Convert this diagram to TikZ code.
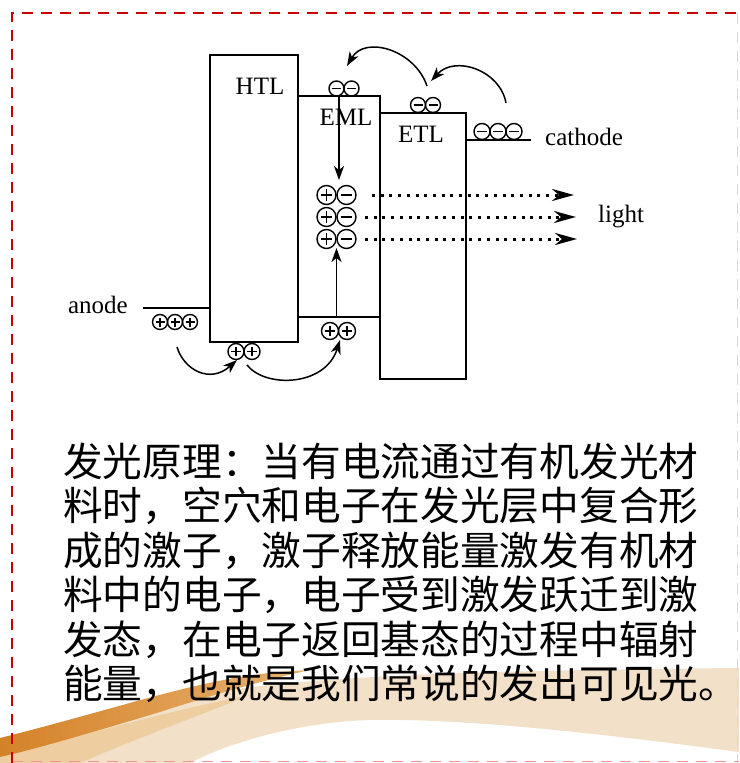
\documentclass[tikz,border=0pt]{standalone}
\usepackage{fontspec}
\setmainfont{Liberation Serif}
\newfontfamily\cjkfont{Noto Sans CJK SC}
\usetikzlibrary{arrows.meta}

\definecolor{frame}{RGB}{200,0,0}
\definecolor{framepink}{RGB}{240,150,150}
\definecolor{framegray}{RGB}{215,215,215}
\definecolor{swdark}{RGB}{212,130,40}
\definecolor{swmid}{RGB}{232,178,112}
\definecolor{swpale}{RGB}{242,224,200}
\definecolor{swlight}{RGB}{238,205,160}

\begin{document}
\begin{tikzpicture}[x=1pt,y=-1pt,
  level/.style={line width=2.6pt},
  wall/.style={line width=1.8pt},
  lbl/.style={font=\fontsize{25}{30}\selectfont, inner sep=0pt},
  cjkline/.style={font=\cjkfont\fontsize{39.7}{45}\selectfont, inner sep=0pt, anchor=base west},
  neg/.style={circle, draw, line width=1.4pt, inner sep=0pt, minimum size=#1,
    path picture={\draw[line width=1.8pt]
      ([xshift=-0.3*#1]path picture bounding box.center) --
      ([xshift=0.3*#1]path picture bounding box.center);}},
  pos/.style={circle, draw, line width=1.4pt, inner sep=0pt, minimum size=#1,
    path picture={\draw[line width=1.8pt]
      ([xshift=-0.3*#1]path picture bounding box.center) --
      ([xshift=0.3*#1]path picture bounding box.center)
      ([yshift=-0.3*#1]path picture bounding box.center) --
      ([yshift=0.3*#1]path picture bounding box.center);}},
  arr/.style={line width=1.5pt, -{Stealth[length=14pt,width=10pt,inset=4pt]}},
  ray/.style={line width=3pt, dash pattern=on 3pt off 5.7pt,
    -{Stealth[length=22pt,width=12pt,inset=7pt]}},
]
\useasboundingbox (0,0) rectangle (739,763);
\fill[white] (0,0) rectangle (739,763);

% decorative swoosh along the bottom
\fill[swpale] (150,706) .. controls (250,678) and (420,671) .. (739,668)
  -- (739,752) .. controls (620,736) and (470,718) .. (370,720)
  .. controls (300,722) and (230,742) .. (190,763) -- (0,763) -- (0,757) -- cycle;
\fill[swlight] (0,757) .. controls (60,742) and (150,715) .. (250,695)
  .. controls (200,715) and (120,745) .. (80,763) -- (0,763) -- cycle;
\shade[left color=swdark, right color=swmid]
  (0,738) .. controls (80,718) and (150,696) .. (200,685)
  .. controls (235,677) and (265,672) .. (310,670)
  .. controls (265,680) and (215,694) .. (160,712)
  .. controls (100,730) and (40,748) .. (0,757) -- cycle;

% page frame
\draw[framegray, line width=1.5pt, dash pattern=on 11pt off 8pt] (737.5,13) -- (737.5,763);
\draw[framepink, line width=1.8pt, dash pattern=on 11pt off 8pt] (12,761.5) -- (739,761.5);
\draw[frame, line width=2.2pt, dash pattern=on 11pt off 8pt] (12,763) -- (12,13) -- (739,13);

% layer boxes
\draw[wall] (210,55) rectangle (298,342);
\draw[wall] (298,96) rectangle (380,317);
\draw[wall] (380,113) rectangle (466,379);
\draw[level] (208.8,55) -- (299.2,55);
\draw[level] (208.8,342) -- (299.2,342);
\draw[level] (298,96) -- (381.2,96);
\draw[level] (380,113) -- (467.2,113);
\draw[level] (143,308) -- (210,308);
\draw[level] (466,140) -- (531,140);

\node[lbl] (htl) at (260,86) {HTL};
\node[lbl] (eml) at (346,117) {EML};
\node[lbl] (etl) at (421,134) {ETL};
\node[lbl, anchor=base east] (anode) at (128,313) {anode};
\node[lbl, anchor=base west] (cathode) at (545,145) {cathode};
\node[lbl, anchor=base west] (light) at (598,222) {light};

% electrons
\node[neg=15pt] (em1) at (336.5,88.5) {};
\node[neg=15pt] (em2) at (351.5,88.5) {};
\node[neg=15pt] (et1) at (418,105) {};
\node[neg=15pt] (et2) at (433,105) {};
\node[neg=16pt] (ca1) at (482,131.5) {};
\node[neg=16pt] (ca2) at (498,131.5) {};
\node[neg=16pt] (ca3) at (514,131.5) {};

% holes
\node[pos=15pt] (an1) at (160,322) {};
\node[pos=15pt] (an2) at (175,322) {};
\node[pos=15pt] (an3) at (190,322) {};
\node[pos=16pt] (ht1) at (236,351.5) {};
\node[pos=16pt] (ht2) at (252,351.5) {};
\node[pos=17pt] (eh1) at (330,331) {};
\node[pos=17pt] (eh2) at (347,331) {};

% excitons
\node[pos=19pt] (x1p) at (326.5,195) {};
\node[neg=19pt] (x1n) at (346.5,195) {};
\node[pos=19pt] (x2p) at (326.5,217) {};
\node[neg=19pt] (x2n) at (346.5,217) {};
\node[pos=19pt] (x3p) at (326.5,239) {};
\node[neg=19pt] (x3n) at (346.5,239) {};

% vertical transport into the emitting layer
\coordinate (drop) at (339,96);
\coordinate (droptip) at (339,180);
\coordinate (rise) at (336.5,317);
\coordinate (risetip) at (336.5,248);
\draw[arr] (drop) -- (droptip);
\draw[arr] (rise) -- (risetip);

% emitted light
\coordinate (r1s) at (372,195);
\coordinate (r2s) at (365,217);
\coordinate (r3s) at (365,239);
\coordinate (r1e) at (574,195);
\coordinate (r2e) at (576,217);
\coordinate (r3e) at (577,239);
\draw[ray] (r1s) -- (r1e);
\draw[ray] (r2s) -- (r2e);
\draw[ray] (r3s) -- (r3e);

% hole hopping
\coordinate (h1s) at (177,347);
\coordinate (h1e) at (237,360);
\coordinate (h2s) at (247,365);
\coordinate (h2e) at (340,340);
\draw[arr] (h1s) .. controls (184,370) and (210,384) .. (h1e);
\draw[arr] (h2s) .. controls (265,388) and (325,387) .. (h2e);

% electron hopping
\coordinate (e1s) at (427,86);
\coordinate (e1e) at (347,66);
\coordinate (e2s) at (506,103);
\coordinate (e2e) at (431,81);
\draw[arr] (e1s) .. controls (415,50) and (365,35) .. (e1e);
\draw[arr] (e2s) .. controls (500,70) and (455,55) .. (e2e);

% explanation
\node[cjkline] (t1) at (63,476) {发光原理：当有电流通过有机发光材};
\node[cjkline] (t2) at (63,520.5) {料时，空穴和电子在发光层中复合形};
\node[cjkline] (t3) at (63,565) {成的激子，激子释放能量激发有机材};
\node[cjkline] (t4) at (63,609.5) {料中的电子，电子受到激发跃迁到激};
\node[cjkline] (t5) at (63,654) {发态，在电子返回基态的过程中辐射};
\node[cjkline] (t6) at (63,698) {能量，也就是我们常说的发出可见光。};
\end{tikzpicture}
\end{document}
